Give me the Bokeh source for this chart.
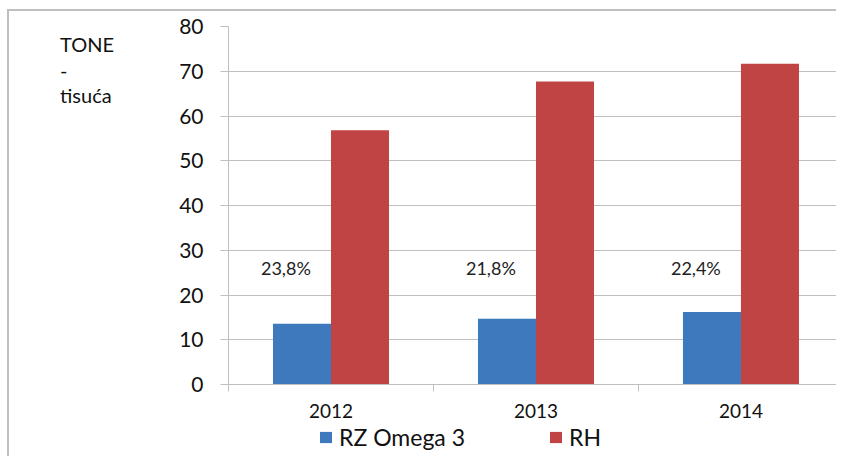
from bokeh.plotting import figure
from bokeh.models import (Range1d, FixedTicker, ColumnDataSource, Legend, LegendItem,
                          LabelSet, Div)
from bokeh.layouts import row, column
from bokeh.core.properties import value
from bokeh.embed import file_html
from bokeh.resources import INLINE

years = ["2012", "2013", "2014"]
rz_omega3 = [13.6, 14.7, 16.2]
rh = [56.8, 67.7, 71.7]
shares = ["23,8%", "21,8%", "22,4%"]
share_y = [26, 26, 26]
y_ticks = [0, 10, 20, 30, 40, 50, 60, 70, 80]
caption = ["TONE", "-", "tisuća"]
series_names = ["RZ Omega 3", "RH"]

FONT = "Lato"
BLUE = "#3e78bd"
RED = "#c04443"
GRID = "#bfbfbf"
TXT = "#111111"

DIV_W = 170
W, H = 836, 420
LEG_H = 36

p = figure(width=W - DIV_W, height=H, output_backend="svg", toolbar_location=None,
           x_range=Range1d(0, 2.966), y_range=Range1d(0, 80))
p.min_border_left = 228 - DIV_W
p.min_border_right = 0
p.min_border_top = 26
p.min_border_bottom = H - 385
p.outline_line_color = None
p.background_fill_color = "white"
p.border_fill_color = None

centers = [i + 0.5 for i in range(len(years))]
bw = 0.283
src = ColumnDataSource(dict(
    xb=[c - bw / 2 for c in centers],
    xr=[c + bw / 2 for c in centers],
    xl=[c - 0.22 for c in centers],
    rz=rz_omega3, rh=rh, sh=shares, sy=share_y))

p.vbar(x="xb", top="rz", width=bw, source=src, fill_color=BLUE, line_color=None)
p.vbar(x="xr", top="rh", width=bw, source=src, fill_color=RED, line_color=None)

p.add_layout(LabelSet(x="xl", y="sy", text="sh", source=src, text_align="center",
                      text_baseline="middle", text_font_size=value("18px"),
                      text_font=value(FONT), text_color="#222222"))

# y axis
p.yaxis.ticker = FixedTicker(ticks=y_ticks)
p.yaxis.axis_line_color = GRID
p.yaxis.major_tick_line_color = GRID
p.yaxis.major_tick_out = 8
p.yaxis.major_tick_in = 0
p.yaxis.minor_tick_line_color = None
p.yaxis.major_label_text_font = FONT
p.yaxis.major_label_text_font_size = "21px"
p.yaxis.major_label_text_color = TXT
p.yaxis.major_label_standoff = 17

# x axis
p.xaxis.ticker = FixedTicker(ticks=centers, minor_ticks=[0, 1, 2, 3])
p.xaxis.major_label_overrides = {c: y for c, y in zip(centers, years)}
p.xaxis.axis_line_color = GRID
p.xaxis.major_tick_line_color = None
p.xaxis.major_tick_out = 0
p.xaxis.major_tick_in = 0
p.xaxis.minor_tick_line_color = GRID
p.xaxis.minor_tick_out = 7
p.xaxis.minor_tick_in = 0
p.xaxis.major_label_text_font = FONT
p.xaxis.major_label_text_font_size = "19px"
p.xaxis.major_label_text_color = TXT
p.xaxis.major_label_standoff = 12

p.xgrid.grid_line_color = None
p.ygrid.ticker = FixedTicker(ticks=y_ticks[1:])
p.ygrid.grid_line_color = GRID
p.ygrid.grid_line_width = 1

# legend strip
lf = figure(width=W, height=LEG_H, output_backend="svg", toolbar_location=None,
            x_range=Range1d(0, 1), y_range=Range1d(0, 1), min_border=0)
lf.axis.visible = False
lf.grid.grid_line_color = None
lf.outline_line_color = None
lf.background_fill_color = None
lf.border_fill_color = None
lb = lf.vbar(x=[5], top=[1], width=0.1, fill_color=BLUE, line_color=None)
lr = lf.vbar(x=[5], top=[1], width=0.1, fill_color=RED, line_color=None)
legend = Legend(items=[LegendItem(label=series_names[0], renderers=[lb]),
                       LegendItem(label=series_names[1], renderers=[lr])],
                orientation="horizontal", location=(318, 5),
                label_text_font=FONT, label_text_font_size="23px",
                label_text_color=TXT, glyph_width=15, glyph_height=14,
                label_height=24, label_standoff=6, spacing=83, border_line_color=None,
                background_fill_alpha=0, padding=0, margin=0)
lf.add_layout(legend, "center")

cap_html = ('<div style="margin-left:60px;margin-top:32px;font-family:Lato;'
            'font-size:20px;line-height:25.5px;color:#111111;white-space:nowrap">'
            + "<br>".join(caption) + "</div>")
cap = Div(text=cap_html, width=DIV_W, height=H, margin=0)

border_bg = ("linear-gradient(#bfbfbf,#bfbfbf) 7px 9px / 2px 600px no-repeat, "
             "linear-gradient(#bfbfbf,#bfbfbf) 7px 9px / 1000px 2px no-repeat, white")
layout = column(row(cap, p, spacing=0), lf, spacing=0, styles={"background": border_bg})

open("out.html", "w").write(file_html(layout, INLINE))
